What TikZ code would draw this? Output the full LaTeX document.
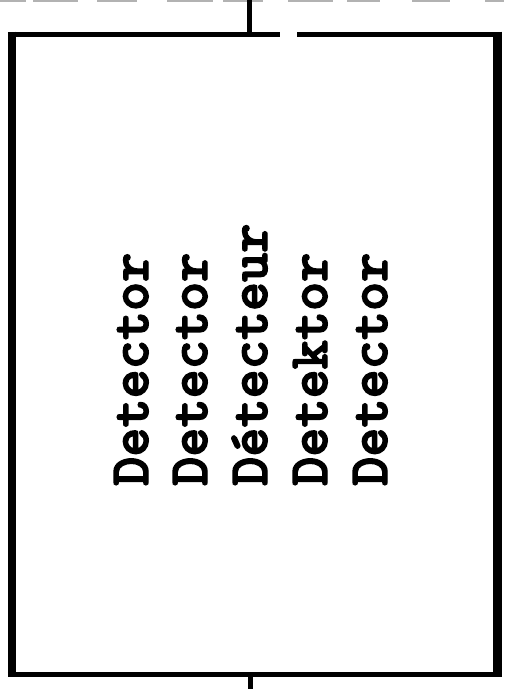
\documentclass[tikz,border=0pt]{standalone}
\usepackage{fontspec}
\newfontfamily\detfont{lmmonolt10-bold}[Extension=.otf, FakeBold=2.5]
\begin{document}
\begin{tikzpicture}[x=1pt,y=1pt,
  lbl/.style={rotate=90, anchor=base west, inner sep=0pt,
    font=\detfont\fontsize{55.5}{57}\selectfont},
  topbot/.style={line width=5.5pt},
  side/.style={line width=8.5pt},
  wire/.style={line width=5pt},
  dashline/.style={line width=2pt, black!30}]
\useasboundingbox (0,0) rectangle (513,689);
% dashed line at the top edge
\foreach \a/\b in {0/26,33/78,97/137,167/213,223/263,288/333,347/380,412/450,485/504}
  \draw[dashline] (\a,688) -- (\b,688);
% detector box
\node[minimum width=485.5pt, minimum height=640pt, inner sep=0pt, outer sep=0pt, anchor=south west] (det) at (12,14.5) {};
\draw[side] ([yshift=2.75pt]det.north west) -- ([yshift=-2.75pt]det.south west);
\draw[side] ([yshift=2.75pt]det.north east) -- ([yshift=-2.75pt]det.south east);
\draw[topbot] ([xshift=-4.25pt]det.south west) -- ([xshift=4.25pt]det.south east);
\draw[topbot] ([xshift=-4.25pt]det.north west) -- (280,654.5);
\draw[topbot] (297,654.5) -- ([xshift=4.25pt]det.north east);
% connectors
\coordinate (intop) at (249.5,689);
\coordinate (outbot) at (250,0);
\draw[wire] (intop) -- (intop |- det.north);
\draw[wire] (outbot) -- (outbot |- det.south);
% labels
\node[lbl] (l1) at (148,203) {Detector};
\node[lbl] (l2) at (207,203) {Detector};
\node[lbl] (l3) at (267,203) {Détecteur};
\node[lbl] (l4) at (327,203) {Detektor};
\node[lbl] (l5) at (387,203) {Detector};
\end{tikzpicture}
\end{document}
